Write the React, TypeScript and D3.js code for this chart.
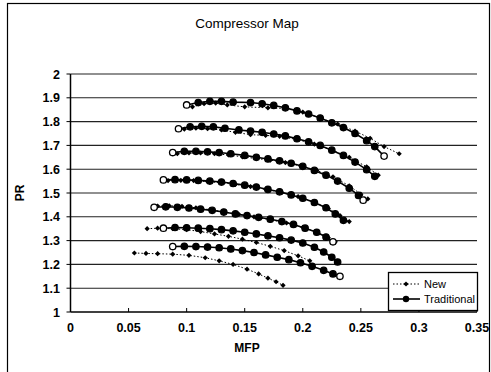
import React from "react";
import * as d3 from "d3";

type Pt = [number, number];

const title = "Compressor Map";
const xLabel = "MFP";
const yLabel = "PR";
const xTicks = [0, 0.05, 0.1, 0.15, 0.2, 0.25, 0.3, 0.35];
const yTicks = [1, 1.1, 1.2, 1.3, 1.4, 1.5, 1.6, 1.7, 1.8, 1.9, 2];

const trad1: Pt[] = [[0.100,1.870],[0.110,1.880],[0.120,1.885],[0.130,1.885],[0.140,1.882],[0.155,1.880],[0.165,1.875],[0.175,1.868],[0.185,1.858],[0.195,1.845],[0.205,1.832],[0.215,1.815],[0.225,1.795],[0.235,1.775],[0.245,1.750],[0.255,1.720],[0.262,1.695],[0.270,1.655]];
const new1: Pt[] = [[0.105,1.862],[0.115,1.875],[0.125,1.878],[0.135,1.870],[0.150,1.862],[0.170,1.858],[0.185,1.855],[0.200,1.840],[0.215,1.815],[0.230,1.790],[0.245,1.760],[0.258,1.730],[0.270,1.695],[0.283,1.665]];
const trad2: Pt[] = [[0.093,1.770],[0.103,1.778],[0.113,1.780],[0.123,1.778],[0.133,1.772],[0.145,1.765],[0.155,1.760],[0.165,1.755],[0.175,1.748],[0.185,1.740],[0.195,1.728],[0.205,1.715],[0.215,1.700],[0.225,1.680],[0.235,1.658],[0.245,1.630],[0.255,1.598],[0.262,1.570]];
const new2: Pt[] = [[0.098,1.768],[0.108,1.772],[0.118,1.770],[0.130,1.765],[0.142,1.755],[0.155,1.745],[0.168,1.742],[0.180,1.738],[0.195,1.725],[0.210,1.705],[0.225,1.680],[0.240,1.650],[0.255,1.610],[0.265,1.575]];
const trad3: Pt[] = [[0.088,1.670],[0.098,1.675],[0.108,1.675],[0.118,1.673],[0.128,1.670],[0.138,1.665],[0.150,1.658],[0.160,1.650],[0.170,1.643],[0.180,1.635],[0.190,1.625],[0.200,1.612],[0.210,1.595],[0.220,1.575],[0.230,1.550],[0.240,1.520],[0.248,1.490],[0.252,1.470]];
const new3: Pt[] = [[0.092,1.665],[0.102,1.668],[0.112,1.668],[0.124,1.665],[0.136,1.660],[0.148,1.652],[0.160,1.645],[0.172,1.638],[0.185,1.628],[0.198,1.614],[0.212,1.595],[0.226,1.568],[0.240,1.530],[0.250,1.495],[0.256,1.475]];
const trad4: Pt[] = [[0.080,1.555],[0.090,1.556],[0.100,1.555],[0.110,1.553],[0.120,1.550],[0.130,1.546],[0.140,1.540],[0.150,1.533],[0.160,1.525],[0.170,1.515],[0.180,1.505],[0.190,1.492],[0.200,1.478],[0.210,1.460],[0.220,1.438],[0.228,1.412],[0.235,1.385]];
const new4: Pt[] = [[0.084,1.552],[0.095,1.553],[0.106,1.552],[0.118,1.548],[0.130,1.543],[0.142,1.536],[0.155,1.527],[0.168,1.516],[0.182,1.502],[0.196,1.485],[0.210,1.462],[0.222,1.435],[0.232,1.405],[0.240,1.380]];
const trad5: Pt[] = [[0.072,1.440],[0.082,1.442],[0.092,1.440],[0.102,1.437],[0.112,1.432],[0.122,1.427],[0.132,1.420],[0.142,1.412],[0.152,1.405],[0.162,1.398],[0.172,1.390],[0.182,1.380],[0.192,1.368],[0.202,1.352],[0.212,1.335],[0.220,1.315],[0.226,1.295]];
const new5: Pt[] = [[0.075,1.445],[0.085,1.446],[0.096,1.444],[0.108,1.438],[0.120,1.430],[0.132,1.420],[0.145,1.410],[0.158,1.400],[0.172,1.388],[0.186,1.374],[0.200,1.356],[0.212,1.336],[0.222,1.312],[0.228,1.295]];
const trad6: Pt[] = [[0.080,1.352],[0.090,1.355],[0.100,1.354],[0.110,1.352],[0.120,1.350],[0.130,1.346],[0.140,1.341],[0.150,1.335],[0.160,1.328],[0.170,1.320],[0.180,1.312],[0.190,1.302],[0.200,1.290],[0.210,1.272],[0.218,1.252],[0.225,1.230],[0.230,1.210]];
const new6: Pt[] = [[0.066,1.350],[0.075,1.352],[0.088,1.350],[0.100,1.346],[0.112,1.338],[0.124,1.328],[0.136,1.318],[0.148,1.306],[0.160,1.292],[0.172,1.276],[0.184,1.258],[0.196,1.236],[0.206,1.215]];
const trad7: Pt[] = [[0.088,1.275],[0.098,1.276],[0.108,1.275],[0.118,1.273],[0.128,1.270],[0.138,1.265],[0.148,1.258],[0.158,1.250],[0.168,1.240],[0.178,1.230],[0.188,1.220],[0.198,1.207],[0.208,1.192],[0.218,1.175],[0.226,1.160],[0.232,1.150]];
const new7: Pt[] = [[0.055,1.248],[0.065,1.246],[0.075,1.245],[0.088,1.243],[0.102,1.238],[0.116,1.228],[0.128,1.215],[0.140,1.200],[0.152,1.180],[0.162,1.160],[0.170,1.142],[0.177,1.127],[0.183,1.112]];

const tradSeries = [trad1, trad2, trad3, trad4, trad5, trad6, trad7];
const newSeries = [new1, new2, new3, new4, new5, new6, new7];
const legendLabels = ["New", "Traditional"];

const W = 491, H = 372;
const m = { left: 70.5, right: 477, top: 74, bottom: 312 };

export default function App() {
  const x = d3.scaleLinear().domain([0, 0.35]).range([m.left, m.right]);
  const y = d3.scaleLinear().domain([1, 2]).range([m.bottom, m.top]);
  const line = d3.line<Pt>().x(d => x(d[0])).y(d => y(d[1]));
  const font = "Liberation Sans, Arial, sans-serif";
  const diamond = (cx: number, cy: number, r: number) =>
    `M${cx},${cy - r}L${cx + r},${cy}L${cx},${cy + r}L${cx - r},${cy}Z`;
  return (
    <svg width={W} height={H} style={{ position: "absolute", left: 0, top: 0 }} fontFamily={font}>
      <rect x={0} y={0} width={W} height={H} fill="#fff" />
      <rect x={7.5} y={3.5} width={482} height={380} fill="none" stroke="#000" strokeWidth={1.2} />
      <text x={247} y={28} textAnchor="middle" fontSize={13.5} fill="#000">{title}</text>
      {yTicks.map(t => (
        <g key={"y" + t}>
          {t > 1 && <line x1={m.left} x2={m.right} y1={y(t)} y2={y(t)} stroke="#222" strokeWidth={1.1} />}
          <line x1={m.left - 4} x2={m.left} y1={y(t)} y2={y(t)} stroke="#000" />
          <text x={60} y={y(t) + 4.5} textAnchor="end" fontSize={12.5} fontWeight="bold" fill="#000">{t}</text>
        </g>
      ))}
      {xTicks.map(t => (
        <g key={"x" + t}>
          <line x1={x(t)} x2={x(t)} y1={m.bottom} y2={m.bottom - 4} stroke="#000" />
          <text x={x(t)} y={m.bottom + 20} textAnchor="middle" fontSize={12.5} fontWeight="bold" fill="#000">{t}</text>
        </g>
      ))}
      <line x1={m.left} x2={m.left} y1={m.top} y2={m.bottom} stroke="#000" strokeWidth={1.5} />
      <line x1={m.left} x2={m.right} y1={m.bottom} y2={m.bottom} stroke="#000" strokeWidth={1.5} />
      <text x={247} y={352} textAnchor="middle" fontSize={12} fontWeight="bold" fill="#000">{xLabel}</text>
      <text transform={`translate(24,193) rotate(-90)`} textAnchor="middle" fontSize={12} fontWeight="bold" fill="#000">{yLabel}</text>
      {newSeries.map((s, i) => (
        <g key={"n" + i}>
          <path d={line(s) || ""} fill="none" stroke="#000" strokeWidth={1} strokeDasharray="1.5,2" />
          {s.map((p, j) => <path key={j} d={diamond(x(p[0]), y(p[1]), 2.6)} fill="#000" />)}
        </g>
      ))}
      {tradSeries.map((s, i) => (
        <g key={"t" + i}>
          <path d={line(s) || ""} fill="none" stroke="#000" strokeWidth={1.6} />
          {s.map((p, j) => (
            <circle key={j} cx={x(p[0])} cy={y(p[1])} r={3.2}
              fill={j === 0 || (j === s.length - 1 && i % 2 === 0) ? "#fff" : "#000"} stroke="#000" strokeWidth={1.3} />
          ))}
        </g>
      ))}
      <g>
        <rect x={388.5} y={272.5} width={89} height={38} fill="#fff" stroke="#000" strokeWidth={1.3} />
        <line x1={393} x2={420} y1={284} y2={284} stroke="#000" strokeDasharray="1.5,2" />
        <path d={diamond(406, 284, 2.6)} fill="#000" />
        <text x={424} y={288} fontSize={11} fill="#000">{legendLabels[0]}</text>
        <line x1={393} x2={420} y1={299} y2={299} stroke="#000" strokeWidth={1.6} />
        <circle cx={406} cy={299} r={3.2} fill="#000" />
        <text x={424} y={303} fontSize={11} fill="#000">{legendLabels[1]}</text>
      </g>
    </svg>
  );
}
